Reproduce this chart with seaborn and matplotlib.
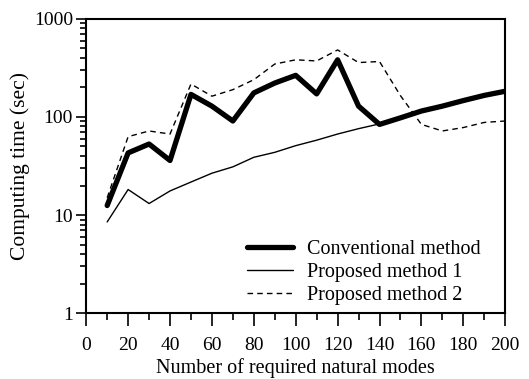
import pandas as pd
import numpy as np
import matplotlib
matplotlib.use("Agg")
import matplotlib.pyplot as plt
import seaborn as sns

# data
modes = [10, 20, 30, 40, 50, 60, 70, 80, 90, 100,
         110, 120, 130, 140, 150, 160, 170, 180, 190, 200]
conventional = [12.5, 43, 53, 36, 170, 129, 91, 176, 222, 266,
                172, 383, 129, 84, 98, 115, 129, 147, 166, 183]
proposed1 = [8.5, 18.2, 13.1, 17.6, 21.7, 26.7, 31, 38.8, 43.6, 51,
             58, 67, 76, 85, 98, 115, 129, 147, 166, 183]
proposed2 = [15, 63, 72, 67, 217, 163, 190, 240, 347, 383,
             373, 483, 359, 368, 165, 84, 72, 78, 88, 91]
x_ticks = [0, 20, 40, 60, 80, 100, 120, 140, 160, 180, 200]
y_ticks = [1, 10, 100, 1000]

df = pd.DataFrame({"modes": modes, "Conventional method": conventional,
                   "Proposed method 1": proposed1, "Proposed method 2": proposed2})

sns.set_theme(style="ticks")
plt.rcParams["font.family"] = ["Liberation Serif", "DejaVu Serif"]
plt.rcParams["font.size"] = 14

fig = plt.figure(figsize=(5.29, 3.79), dpi=100)
ax = fig.add_axes([0.163, 0.174, 0.792, 0.776])

sns.lineplot(data=df, x="modes", y="Conventional method", ax=ax, color="black",
             linewidth=3.8, label="Conventional method")
sns.lineplot(data=df, x="modes", y="Proposed method 1", ax=ax, color="black",
             linewidth=1.0, label="Proposed method 1")
sns.lineplot(data=df, x="modes", y="Proposed method 2", ax=ax, color="black",
             linewidth=1.0, linestyle=(0, (4, 3)), label="Proposed method 2")

ax.set_yscale("log")
ax.set_xlim(0, 200)
ax.set_ylim(1, 1000)
ax.set_xticks(x_ticks)
ax.set_xticks(np.arange(10, 200, 20), minor=True)
ax.set_yticks(y_ticks)
ax.set_yticklabels([str(v) for v in y_ticks])
ax.tick_params(axis="both", which="major", direction="out", width=1.2,
               labelsize=14, color="black", labelcolor="black")
ax.tick_params(axis="both", which="minor", direction="out", length=4, width=1.2,
               color="black")
ax.tick_params(axis="x", which="major", length=9, pad=8)
ax.tick_params(axis="x", which="minor", length=5)
ax.tick_params(axis="y", which="major", length=7.5, pad=2)

for s in ax.spines.values():
    s.set_color("black")
    s.set_linewidth(1.5)

ax.set_xlabel("Number of required natural modes", fontsize=14.5, color="black", labelpad=3)
ax.set_ylabel("Computing time (sec)", fontsize=15.5, color="black", labelpad=3)

leg = ax.legend(loc="lower right", bbox_to_anchor=(0.985, -0.035), frameon=False,
                fontsize=14.5, handlelength=2.3, handletextpad=0.7, labelspacing=0.2)
for t in leg.get_texts():
    t.set_color("black")

fig.savefig("out.png", dpi=100)
